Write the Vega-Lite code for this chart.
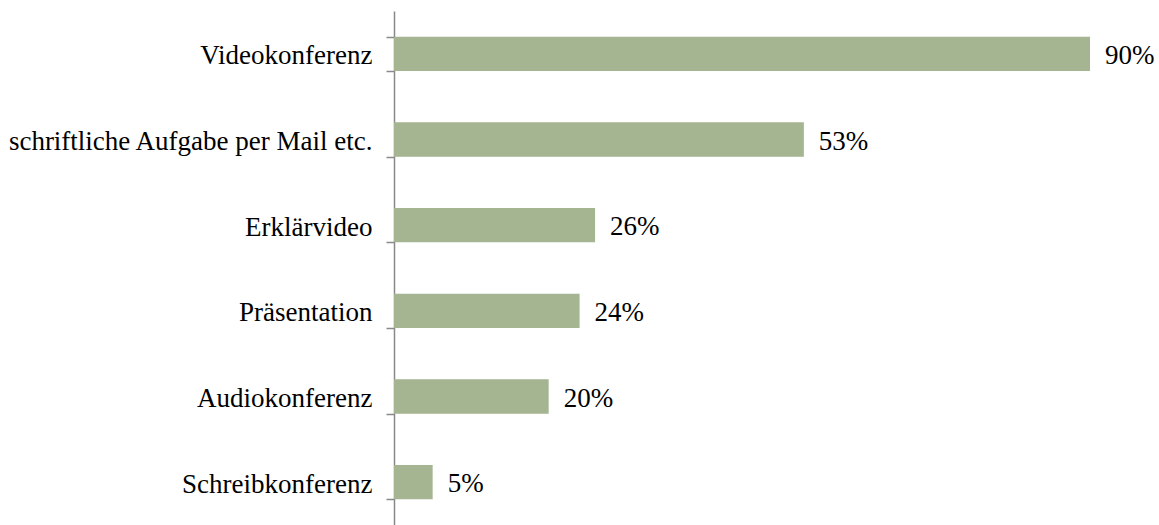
{
  "$schema": "https://vega.github.io/schema/vega-lite/v6.json",
  "width": 696,
  "height": 514,
  "autosize": {"type": "none"},
  "padding": {"left": 394, "top": 11, "right": 69, "bottom": 0},
  "background": "white",
  "config": {"view": {"stroke": null}},
  "data": {"values": [
    {"category": "Videokonferenz", "value": 0.90},
    {"category": "schriftliche Aufgabe per Mail etc.", "value": 0.53},
    {"category": "Erklärvideo", "value": 0.26},
    {"category": "Präsentation ", "value": 0.24},
    {"category": "Audiokonferenz", "value": 0.20},
    {"category": "Schreibkonferenz", "value": 0.05}
  ]},
  "encoding": {
    "y": {
      "field": "category", "type": "nominal", "sort": null,
      "scale": {"paddingInner": 0.6, "paddingOuter": 0.3},
      "axis": {
        "title": null, "tickBand": "extent", "domainColor": "#898989", "domainWidth": 1.5,
        "tickColor": "#898989", "tickWidth": 1.5, "tickSize": 8, "labelPadding": 14, "labelOffset": 2,
        "labelFont": "Liberation Serif", "labelFontSize": 27, "labelColor": "#000000", "labelLimit": 500
      }
    },
    "x": {
      "field": "value", "type": "quantitative",
      "scale": {"domain": [0, 0.9], "nice": false, "zero": true},
      "axis": null
    }
  },
  "layer": [
    {"mark": {"type": "bar", "color": "#A5B592"}},
    {
      "mark": {"type": "text", "align": "left", "baseline": "middle", "dx": 15, "dy": 2, "font": "Liberation Serif", "fontSize": 27, "color": "#000000"},
      "encoding": {"text": {"field": "value", "type": "quantitative", "format": ".0%"}}
    }
  ]
}
